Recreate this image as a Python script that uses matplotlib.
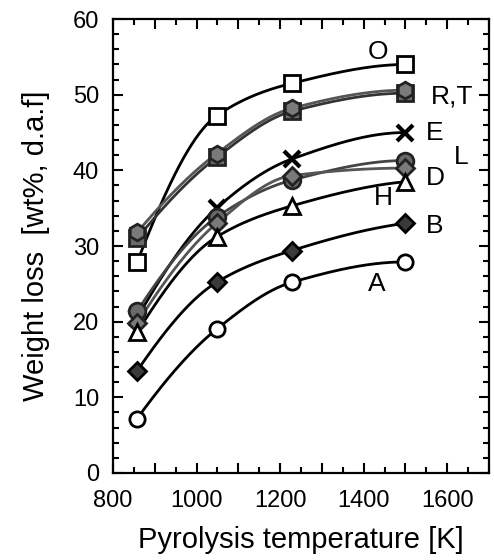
import numpy as np
import matplotlib
matplotlib.use("Agg")
import matplotlib.pyplot as plt
from matplotlib.ticker import MultipleLocator, FuncFormatter

plt.rcParams['font.family'] = ['Liberation Sans', 'DejaVu Sans']

temps = [858, 1048, 1228, 1500]

series_names = ["O", "R", "T", "E", "L", "D", "H", "B", "A"]
O_vals = [27.9, 47.2, 51.5, 54.0]
R_vals = [31.0, 41.7, 47.8, 50.2]
T_vals = [31.8, 42.2, 48.2, 50.6]
E_vals = [20.5, 35.0, 41.5, 45.0]
L_vals = [21.4, 33.8, 38.7, 41.3]
D_vals = [19.8, 33.0, 39.3, 40.3]
H_vals = [18.6, 31.2, 35.3, 38.5]
B_vals = [13.5, 25.2, 29.4, 33.0]
A_vals = [7.2, 19.0, 25.2, 27.9]

labels_text = ["O", "R,T", "E", "L", "D", "H", "B", "A"]
labels_T = [1434, 1560, 1550, 1617, 1550, 1446, 1550, 1432]
labels_V = [55.6, 49.8, 44.9, 41.8, 39.0, 36.3, 32.6, 25.0]


def pchip(x, y, xs):
    x = np.asarray(x, float); y = np.asarray(y, float)
    h = np.diff(x); d = np.diff(y) / h
    n = len(x); m = np.zeros(n)
    for k in range(1, n - 1):
        if d[k - 1] * d[k] > 0:
            w1 = 2 * h[k] + h[k - 1]; w2 = h[k] + 2 * h[k - 1]
            m[k] = (w1 + w2) / (w1 / d[k - 1] + w2 / d[k])
    m[0] = ((2 * h[0] + h[1]) * d[0] - h[0] * d[1]) / (h[0] + h[1])
    if np.sign(m[0]) != np.sign(d[0]):
        m[0] = 0
    m[-1] = ((2 * h[-1] + h[-2]) * d[-1] - h[-1] * d[-2]) / (h[-1] + h[-2])
    if np.sign(m[-1]) != np.sign(d[-1]):
        m[-1] = 0
    out = np.empty_like(xs, dtype=float)
    for i, xv in enumerate(xs):
        k = min(np.searchsorted(x, xv) - 1, n - 2); k = max(k, 0)
        t = (xv - x[k]) / h[k]
        h00 = 2 * t**3 - 3 * t**2 + 1; h10 = t**3 - 2 * t**2 + t
        h01 = -2 * t**3 + 3 * t**2; h11 = t**3 - t**2
        out[i] = h00 * y[k] + h10 * h[k] * m[k] + h01 * y[k + 1] + h11 * h[k] * m[k + 1]
    return out


fig = plt.figure(figsize=(4.94, 5.6), dpi=100)
ax = fig.add_axes([0.2287, 0.1554, 0.7612, 0.8106])

styles = {
    "O": dict(marker="s", mfc="white", mec="black", ms=11, lc="black"),
    "R": dict(marker="s", mfc="#6a6a6a", mec="#222222", ms=11, lc="#333333"),
    "T": dict(marker="h", mfc="#7a7a7a", mec="#222222", ms=12, lc="#555555"),
    "E": dict(marker="x", mfc="black", mec="black", ms=12, lc="black"),
    "L": dict(marker="o", mfc="#6a6a6a", mec="#222222", ms=12, lc="#444444"),
    "D": dict(marker="D", mfc="#7a7a7a", mec="#222222", ms=9, lc="#555555"),
    "H": dict(marker="^", mfc="white", mec="black", ms=11, lc="black"),
    "B": dict(marker="D", mfc="#3a3a3a", mec="black", ms=9, lc="black"),
    "A": dict(marker="o", mfc="white", mec="black", ms=11, lc="black"),
}
data = {"O": O_vals, "R": R_vals, "T": T_vals, "E": E_vals, "L": L_vals,
        "D": D_vals, "H": H_vals, "B": B_vals, "A": A_vals}

xs = np.linspace(temps[0], temps[-1], 200)
for name in series_names:
    st = styles[name]
    vals = data[name]
    ax.plot(xs, pchip(temps, vals, xs), color=st["lc"], lw=2.0, zorder=2)
    ax.plot(temps, vals, linestyle="none", marker=st["marker"], ms=st["ms"],
            mfc=st["mfc"], mec=st["mec"], mew=2.0 if name != "E" else 3.0, zorder=3)

for txt, tx, ty in zip(labels_text, labels_T, labels_V):
    ha = "center" if txt in ("O", "H", "A") else "left"
    ax.text(tx, ty, txt, fontsize=19, ha=ha, va="center")

ax.set_xlim(800, 1700)
ax.set_ylim(0, 60)
ax.xaxis.set_major_locator(MultipleLocator(100))
ax.xaxis.set_minor_locator(MultipleLocator(50))
ax.xaxis.set_major_formatter(FuncFormatter(lambda v, p: f"{int(round(v))}" if int(round(v)) % 200 == 0 else ""))
ax.yaxis.set_major_locator(MultipleLocator(10))
ax.yaxis.set_minor_locator(MultipleLocator(2))
ax.tick_params(which="both", direction="in", top=True, right=True, width=1.5, labelsize=17)
ax.tick_params(axis="x", which="major", pad=12)
ax.tick_params(axis="y", which="major", pad=10)
ax.tick_params(which="major", length=7)
ax.tick_params(which="minor", length=4)
for sp in ax.spines.values():
    sp.set_linewidth(1.6)

ax.set_xlabel("Pyrolysis temperature [K]", fontsize=21, labelpad=10)
ax.set_ylabel("Weight loss  [wt%, d.a.f]", fontsize=21, labelpad=16)

fig.savefig("out.png", dpi=100)
